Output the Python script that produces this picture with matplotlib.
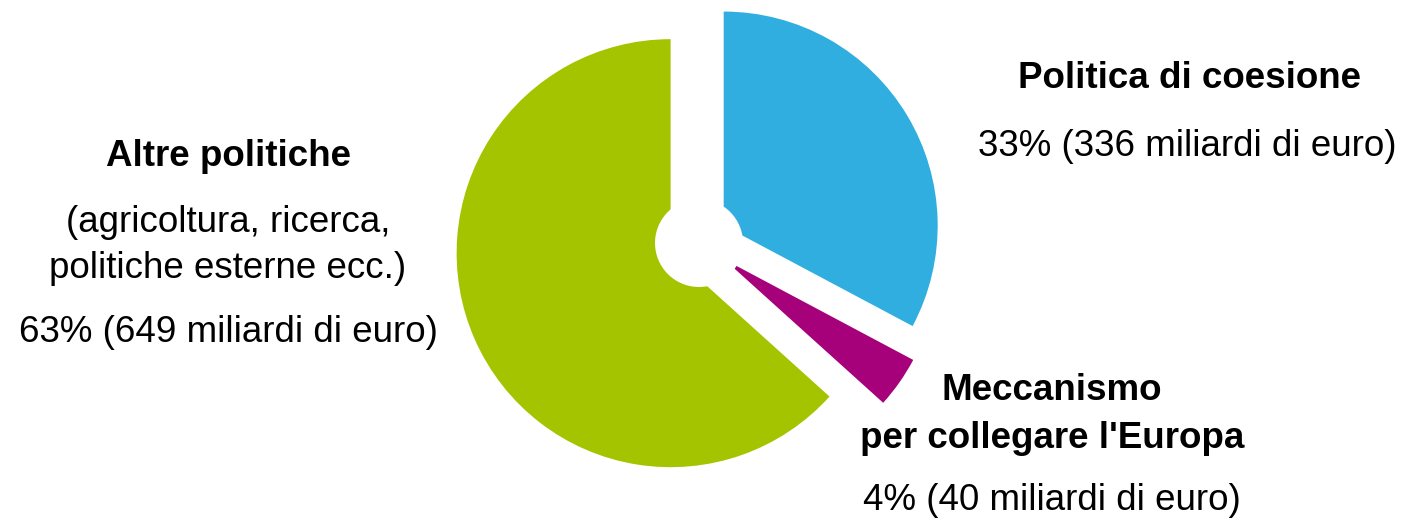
import matplotlib.pyplot as plt
from matplotlib.patches import Circle

# dati (miliardi di euro)
categorie = ['Politica di coesione', "Meccanismo per collegare l'Europa", 'Altre politiche']
valori = [336, 40, 649]
colori = ['#31AEE0', '#A6007A', '#A5C400']

fig = plt.figure(figsize=(14.06, 5.21), dpi=100)
ax = fig.add_axes([0, 0, 1, 1])

cx, cy, r = 698, 521 - 241, 214
esplosione = [0.14 * r, 0.15 * r, 0.14 * r]  # explode in pie e' in unita' assolute
ax.pie(valori, colors=colori, explode=esplosione, startangle=90, counterclock=False,
       center=(cx, cy), radius=r, wedgeprops=dict(linewidth=0))
ax.add_patch(Circle((cx + 1, cy - 2), 44, facecolor='white', edgecolor='none', zorder=5))

ax.set_xlim(0, 1406)
ax.set_ylim(0, 521)
ax.set_aspect('equal')
ax.axis('off')

font = 'Liberation Sans'
fs = 26.5


def testo(x, y, s, bold=False):
    ax.text(x, 521 - y, s, ha='center', va='center', fontsize=fs, family=font,
            fontweight='bold' if bold else 'normal', color='black')


testo(1189, 79, 'Politica di coesione', bold=True)
testo(1187, 147, '33% (336 miliardi di euro)')

testo(228, 156, 'Altre politiche', bold=True)
testo(228, 223, '(agricoltura, ricerca,')
testo(228, 269, 'politiche esterne ecc.)')
testo(228, 333, '63% (649 miliardi di euro)')

testo(1052, 391, 'Meccanismo', bold=True)
testo(1052, 438, "per collegare l'Europa", bold=True)
testo(1052, 501, '4% (40 miliardi di euro)')

fig.savefig('out.png', dpi=100)
